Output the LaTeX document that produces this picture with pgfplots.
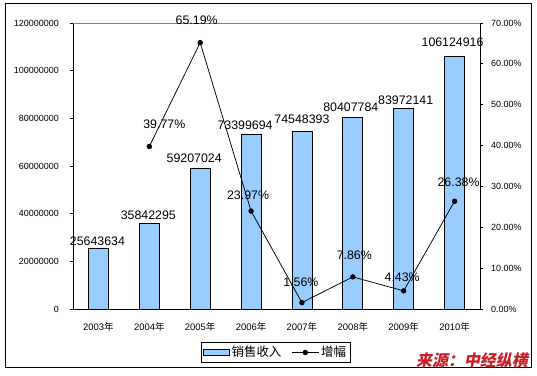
\documentclass[border=0pt]{standalone}
\usepackage{pgfplots}
\pgfplotsset{compat=1.18}
\usepackage{pgfplotstable}
\usepackage{fontspec}
\setmainfont{Liberation Sans}
\newfontfamily\cjk{Noto Sans CJK SC}
\newfontfamily\cjksrc[FakeSlant=0.2]{Noto Sans CJK SC}
\definecolor{barblue}{RGB}{153,204,255}
\definecolor{srcred}{RGB}{200,30,40}

\pgfplotstableread{
x y lab dx dy
0 25643634 25643634 -1 7
1 35842295 35842295 -1 8
2 59207024 59207024 -6 10
3 73399694 73399694 -6 9
4 74548393 74548393 0 12
5 80407784 80407784 -2 10
6 83972141 83972141 2 9
7 106124916 106124916 -2 14
}\sales

\pgfplotstableread{
x y dx dy
1 39.77 15 22
2 65.19 -3.5 22
3 23.97 -3 16
4 1.56 -1 20
5 7.86 1.5 22
6 4.43 -1.5 14
7 26.38 4 19
}\growth

\begin{document}
\begin{tikzpicture}
\useasboundingbox (0,0) rectangle (537bp,376bp);
\draw[black, line width=1bp] (5bp,8bp) rectangle (531bp,372bp);

\begin{axis}[
  at={(73bp,67bp)}, anchor=south west, scale only axis,
  width=407bp, height=286bp,
  xmin=-0.5, xmax=7.5, ymin=0, ymax=120000000,
  axis x line*=bottom, axis y line*=left,
  axis line style={black, line width=0.75bp},
  clip=false,
  tick align=outside, major tick length=3bp,
  tick style={draw=black, line width=0.75bp},
  xtick={0,...,7},
  xticklabels={2003{\cjk 年},2004{\cjk 年},2005{\cjk 年},2006{\cjk 年},2007{\cjk 年},2008{\cjk 年},2009{\cjk 年},2010{\cjk 年}},
  x tick style={draw=none},
  extra x ticks={0.5,1.5,...,6.5},
  extra x tick labels={},
  extra x tick style={tick align=inside, tick style={draw=black, line width=0.75bp}},
  xticklabel style={font=\fontsize{9.5}{11}\selectfont, inner sep=0pt, anchor=north, yshift=-10bp},
  ytick={0,20000000,40000000,60000000,80000000,100000000,120000000},
  scaled y ticks=false,
  y tick label style={/pgf/number format/fixed, /pgf/number format/1000 sep={}, font=\fontsize{9}{11}\selectfont, inner sep=0pt, anchor=east, xshift=-11bp},
  /pgf/number format/assume math mode=true,
]
\draw[gray, line width=0.75bp] (rel axis cs:0,1) -- (rel axis cs:1,1);
\addplot[ybar, bar width=20bp, fill=barblue, draw=black, line width=0.75bp,
  point meta=explicit symbolic,
  nodes near coords,
  visualization depends on={\thisrow{dx}\as\dx},
  visualization depends on={\thisrow{dy}\as\dy},
  every node near coord/.append style={anchor=center, xshift=\dx bp, yshift=\dy bp, font=\fontsize{12.4}{14}\selectfont, text=black, inner sep=0pt},
] table[x=x, y=y, meta=lab] \sales;
\end{axis}

\begin{axis}[
  at={(73bp,67bp)}, anchor=south west, scale only axis,
  width=407bp, height=286bp,
  xmin=-0.5, xmax=7.5, ymin=0, ymax=70,
  axis x line=none, axis y line*=right,
  axis line style={black, line width=0.75bp},
  clip=false,
  tick align=outside, major tick length=3bp,
  tick style={draw=black, line width=0.75bp},
  ytick={0,10,...,70},
  yticklabel={\pgfmathprintnumber[fixed,fixed zerofill,precision=2]{\tick}\%},
  y tick label style={font=\fontsize{9}{11}\selectfont, inner sep=0pt, anchor=west, xshift=8bp},
  /pgf/number format/assume math mode=true,
  legend columns=2,
  legend style={at={(0.4975,-0.152)}, anchor=center, draw=black, line width=0.75bp,
    font=\cjk\fontsize{12.5}{14}\selectfont, inner sep=2bp,
    /tikz/every even column/.append style={column sep=8bp}},
]
\addlegendimage{legend image code/.code={\draw[fill=barblue, draw=black, line width=0.75bp] (0bp,-3bp) rectangle (26bp,3bp);}}
\addlegendentry{销售收入}
\addplot[black, line width=0.75bp, mark=*, mark size=2.3bp,
  mark options={solid, fill=black},
  legend image code/.code={\draw[black, line width=0.75bp] (0bp,0bp) -- (27bp,0bp); \fill[black] (13.5bp,0bp) circle (2.3bp);},
  point meta=y,
  nodes near coords={\pgfmathprintnumber[fixed,fixed zerofill,precision=2]{\pgfplotspointmeta}\%},
  visualization depends on={\thisrow{dx}\as\dx},
  visualization depends on={\thisrow{dy}\as\dy},
  every node near coord/.append style={anchor=center, xshift=\dx bp, yshift=\dy bp, font=\fontsize{12.4}{14}\selectfont, text=black, inner sep=0pt},
] table[x=x, y=y] \growth;
\addlegendentry{增幅}
\end{axis}

\node[anchor=base east, text=srcred, inner sep=0pt, font=\cjksrc\bfseries\fontsize{16}{18}\selectfont] at (528bp,10bp) {来源：中经纵横};
\end{tikzpicture}
\end{document}
